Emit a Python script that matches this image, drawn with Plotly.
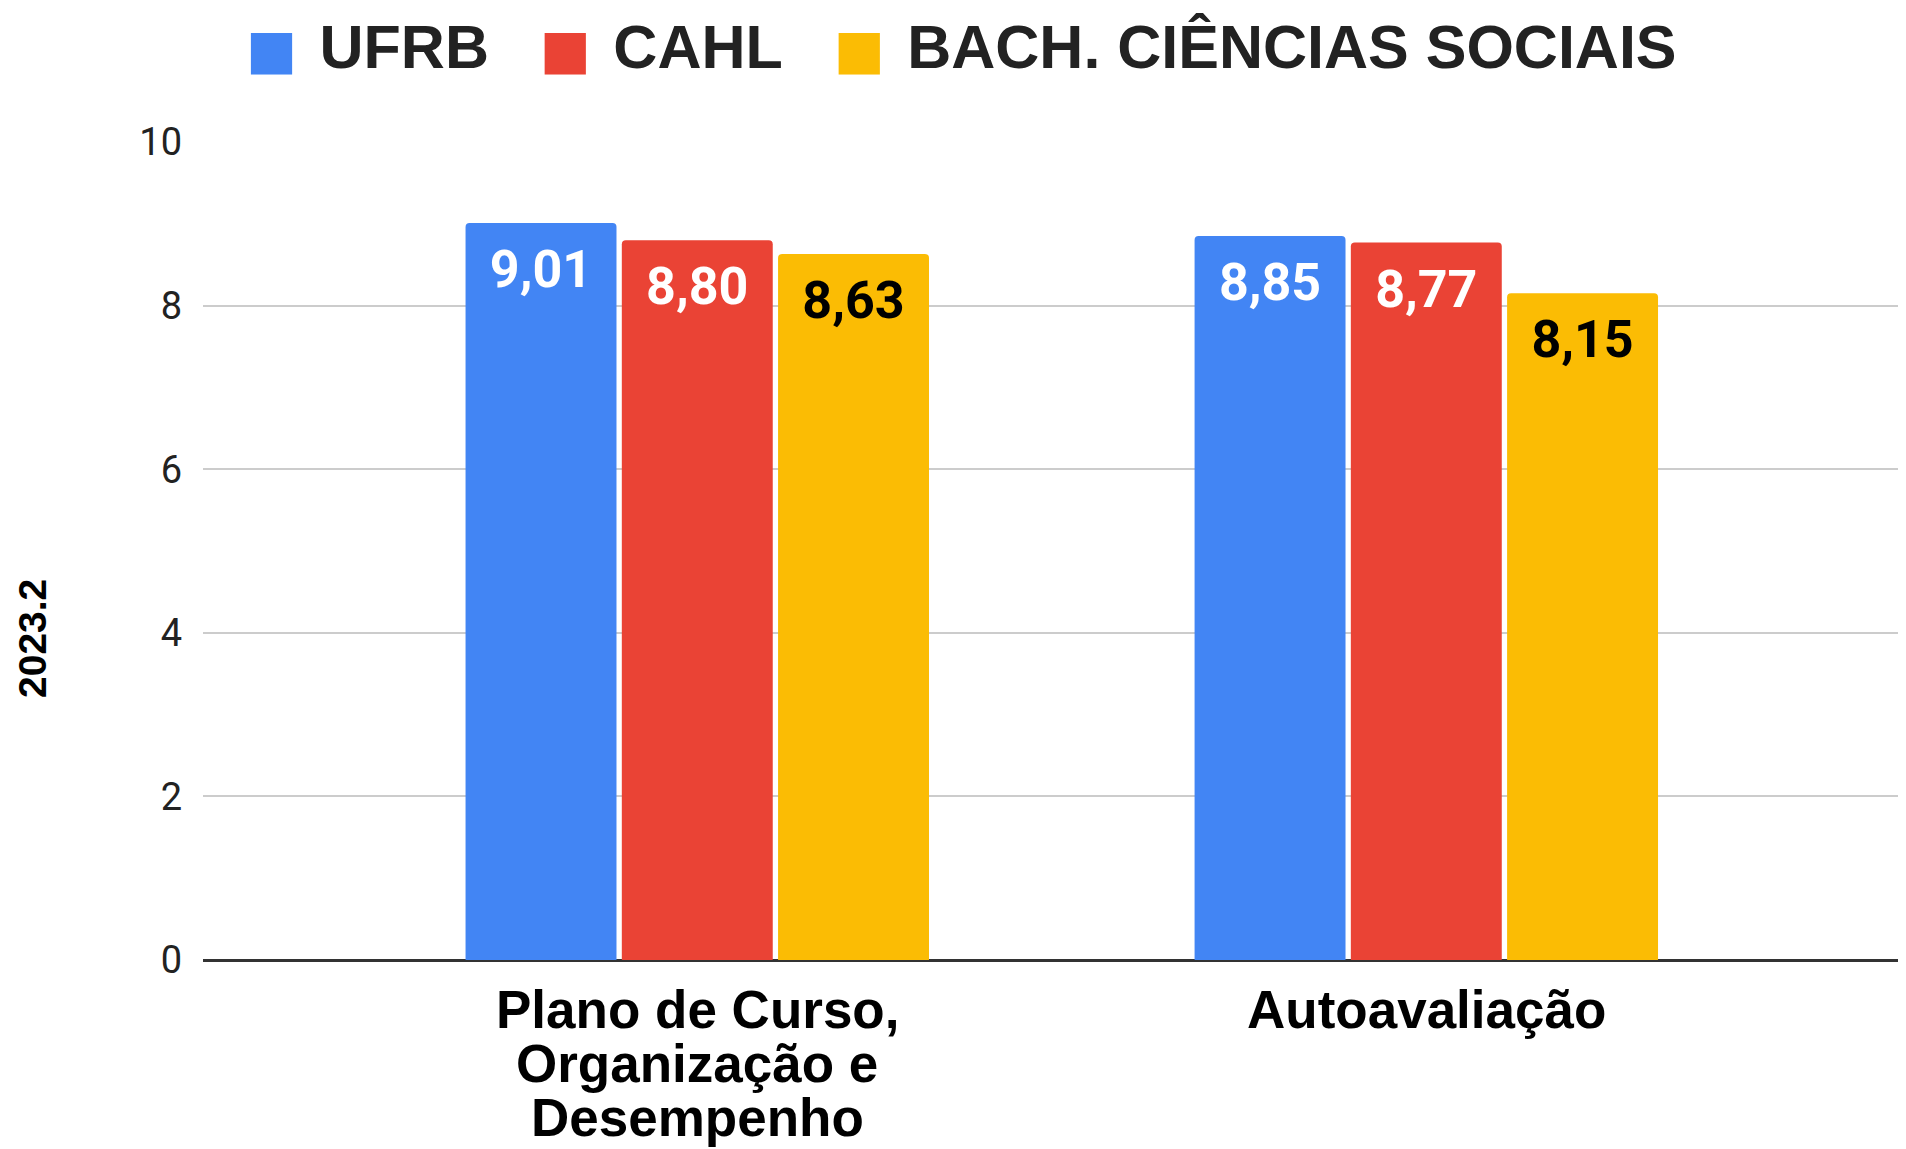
import plotly.graph_objects as go

categories = ["Plano de Curso,<br>Organização e<br>Desempenho", "Autoavaliação"]
series_names = ["UFRB", "CAHL", "BACH. CIÊNCIAS SOCIAIS"]
ufrb = [9.01, 8.85]
cahl = [8.80, 8.77]
bach = [8.63, 8.15]
series_values = [ufrb, cahl, bach]
colors = ["#4285F4", "#EA4335", "#FBBC04"]
label_colors = ["#FFFFFF", "#FFFFFF", "#000000"]
y_ticks = [0, 2, 4, 6, 8, 10]
y_title = "2023.2"

# page body has an 8px margin in the written html; compensate
OFF = 8
W, H = 1906 - OFF, 1149 - OFF
L, T = 203 - OFF, 142 - OFF
B = 1149 - 960
PW = W - L
PH = H - T - B

def fmt(v):
    # taller invisible padding so the label sits a little lower inside the bar
    pad = '<span style="font-size:65px">&nbsp;</span>'
    return pad + f"{v:.2f}".replace(".", ",") + pad

fig = go.Figure()
for name, vals, col, lc in zip(series_names, series_values, colors, label_colors):
    fig.add_trace(go.Bar(
        x=categories, y=vals, name=name,
        marker=dict(color=col, line=dict(width=0)),
        text=[fmt(v) for v in vals],
        textposition="inside", insidetextanchor="end",
        textfont=dict(family="Roboto", size=52, color=lc, weight="bold"),
        textangle=0,
        showlegend=False,
        hoverinfo="skip",
    ))

# legend as a single centered text line
parts = []
for name, col in zip(series_names, colors):
    parts.append(
        f'<span style="color:{col};font-family:DejaVu Sans;font-size:54px">■</span>'
        f'&nbsp;<span style="font-size:20px">&nbsp;</span>{name}'
    )
legend_text = "&nbsp;&nbsp;&nbsp;".join(parts)
fig.add_annotation(
    text=legend_text, xref="paper", yref="paper",
    x=(961 - 203) / PW, y=1.0, yshift=131, xanchor="center", yanchor="top",
    showarrow=False,
    font=dict(family="Liberation Sans, Arial", size=61, color="#222222", weight="bold"),
)

# category labels (line by line)
for cat in categories:
    for i, line in enumerate(cat.split("<br>")):
        fig.add_annotation(
            text=line, x=cat, xref="x", y=0, yref="y",
            yanchor="top", yshift=-18 - 54 * i, showarrow=False,
            font=dict(family="Liberation Sans, Arial", size=53, color="#000000", weight="bold"),
        )

# y-axis title
fig.add_annotation(
    text=y_title, xref="paper", yref="paper", x=-(203 - 32) / PW, y=(960 - 639) / PH,
    xanchor="center", yanchor="middle", textangle=-90, showarrow=False,
    font=dict(family="Liberation Sans, Arial", size=39, color="#000000", weight="bold"),
)

fig.update_layout(
    width=W, height=H,
    margin=dict(l=L, r=0, t=T, b=B, pad=0),
    paper_bgcolor="white", plot_bgcolor="white",
    barmode="group", bargap=0.357, bargroupgap=0.034, barcornerradius=4,
    xaxis=dict(range=[-0.678, 1.658], showticklabels=False, showgrid=False,
               zeroline=False, showline=False, ticks=""),
    yaxis=dict(range=[0, 10], tickvals=y_ticks, ticktext=[str(t) for t in y_ticks],
               showgrid=True, gridcolor="#CCCCCC", gridwidth=2,
               zeroline=True, zerolinecolor="#333333", zerolinewidth=3,
               showline=False, ticks="", ticklabelstandoff=20,
               tickfont=dict(family="Roboto", size=38, color="#222222")),
    uniformtext=dict(mode=False),
)

fig.write_html("out.html")
